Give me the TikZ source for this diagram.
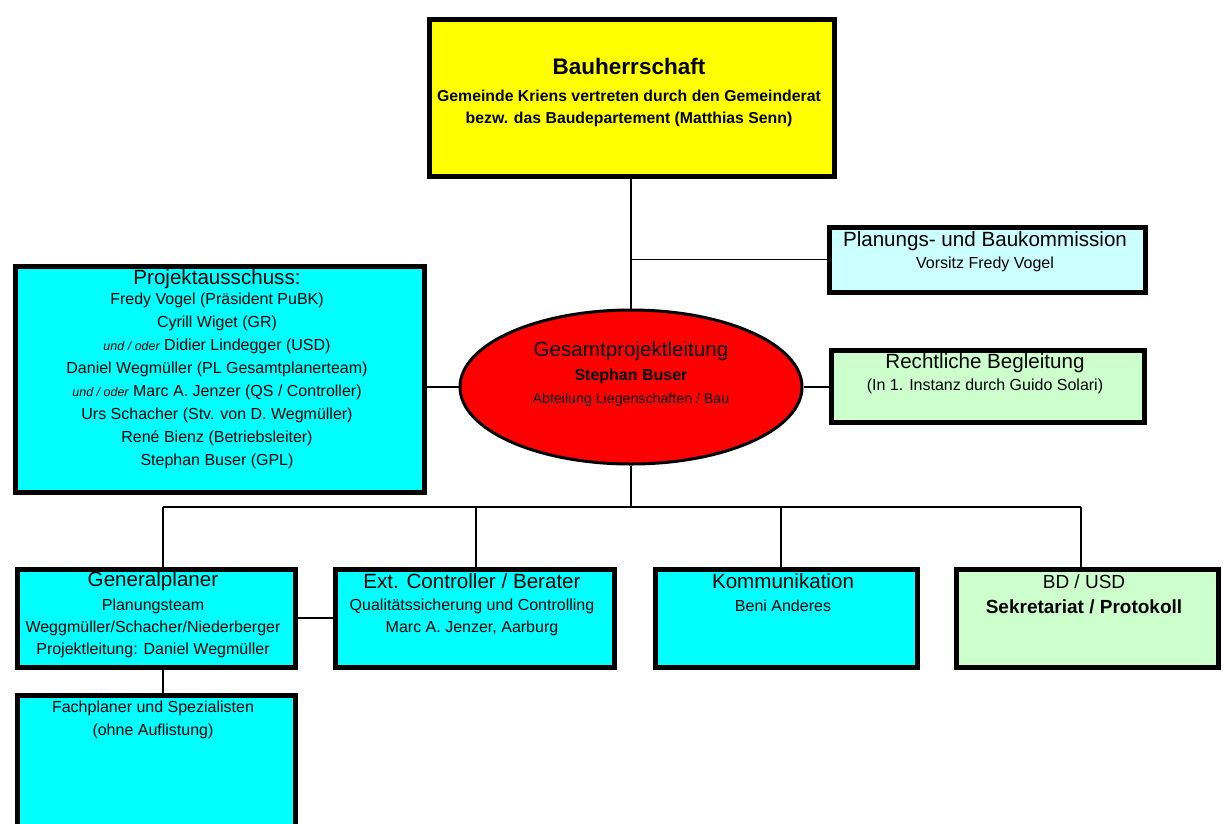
\documentclass[tikz,border=0pt]{standalone}
\usepackage{fontspec}
\setmainfont{Liberation Sans}
\usetikzlibrary{shapes.geometric,positioning}
\definecolor{box yellow}{HTML}{FFFF00}
\definecolor{box cyan}{HTML}{00FFFF}
\definecolor{box pale}{HTML}{CCFFFF}
\definecolor{box green}{HTML}{CCFFCC}
\definecolor{box red}{HTML}{FF0000}
\newcommand{\titlefont}{\fontsize{20.6}{23}\selectfont}
\newcommand{\bodyfont}[1]{\fontsize{16}{#1}\selectfont}
\newcommand{\undoder}{{\fontsize{12.5}{14}\selectfont\itshape und / oder}}
\tikzset{orgbox/.style={draw=black, line width=5pt, inner sep=0pt, anchor=north west},
    titletext/.style={inner sep=0pt, font=\titlefont, yshift=-1.5pt},
    bodytext/.style={anchor=north, align=center, inner sep=0pt},
    link/.style={draw=black, line width=1.3pt}}

\begin{document}
\begin{tikzpicture}[x=1pt, y=-1pt]
    \useasboundingbox (0,0) rectangle (1223,823);
    \clip (0,0) rectangle (1223,823);

    % Bauherrschaft
    \node[orgbox, fill=box yellow, minimum width=405pt, minimum height=157pt] (bh) at (426.5,16.5) {};
    \node[titletext, font=\fontsize{22.5}{24}\selectfont\bfseries, yshift=1.5pt] (bh-title) at (629,66) {Bauherrschaft};
    \node[bodytext, font=\fontsize{15.8}{22}\selectfont\bfseries] (bh-body) at (629,90)
        {Gemeinde Kriens vertreten durch den Gemeinderat\\bezw. das Baudepartement (Matthias Senn)};

    % Planungs- und Baukommission
    \node[orgbox, fill=box pale, minimum width=316pt, minimum height=65pt] (pbk) at (826.5,224.5) {};
    \node[titletext] (pbk-title) at (985,240) {Planungs- und Baukommission};
    \node[inner sep=0pt, font=\bodyfont{18}] (pbk-body) at (985,264) {Vorsitz Fredy Vogel};

    % Projektausschuss
    \node[orgbox, fill=box cyan, minimum width=409pt, minimum height=226pt] (pa) at (12.5,263.5) {};
    \node[titletext] (pa-title) at (217,278) {Projektausschuss:};
    \node[bodytext, font=\bodyfont{23}] (pa-body) at (217,293)
        {Fredy Vogel (Präsident PuBK)\\
         Cyrill Wiget (GR)\\
         \undoder{} Didier Lindegger (USD)\\
         Daniel Wegmüller (PL Gesamtplanerteam)\\
         \undoder{} Marc A. Jenzer (QS / Controller)\\
         Urs Schacher (Stv. von D. Wegmüller)\\
         René Bienz (Betriebsleiter)\\
         Stephan Buser (GPL)};

    % Gesamtprojektleitung
    \node[ellipse, draw=black, line width=3pt, fill=box red, minimum width=342pt, minimum height=154pt] (gpl) at (631,387) {};
    \node[titletext] (gpl-title) at (631,350) {Gesamtprojektleitung};
    \node[inner sep=0pt, font=\bodyfont{18}\bfseries] (gpl-name) at (631,376) {Stephan Buser};
    \node[inner sep=0pt, font=\fontsize{14.2}{16}\selectfont] (gpl-body) at (631,400) {Abteilung Liegenschaften / Bau};

    % Rechtliche Begleitung
    \node[orgbox, fill=box green, minimum width=313pt, minimum height=72pt] (rb) at (828.5,347.5) {};
    \node[titletext] (rb-title) at (985,362) {Rechtliche Begleitung};
    \node[inner sep=0pt, font=\bodyfont{18}] (rb-body) at (985,386) {(In 1. Instanz durch Guido Solari)};

    % untere Reihe
    \node[orgbox, fill=box cyan, minimum width=278pt, minimum height=98pt] (gp) at (14.5,566.5) {};
    \node[titletext] (gp-title) at (153,580) {Generalplaner};
    \node[bodytext, font=\bodyfont{22}] (gp-body) at (153,599)
        {Planungsteam\\Weggmüller/Schacher/Niederberger\\Projektleitung: Daniel Wegmüller};

    \node[orgbox, fill=box cyan, minimum width=279pt, minimum height=98pt] (ext) at (332.5,566.5) {};
    \node[titletext] (ext-title) at (472,580) {Ext. Controller / Berater};
    \node[bodytext, font=\bodyfont{22}] (ext-body) at (472,599)
        {Qualitätssicherung und Controlling\\Marc A. Jenzer, Aarburg};

    \node[orgbox, fill=box cyan, minimum width=262pt, minimum height=98pt] (kom) at (652.5,566.5) {};
    \node[titletext] (kom-title) at (783,580) {Kommunikation};
    \node[inner sep=0pt, font=\bodyfont{18}] (kom-body) at (783,606) {Beni Anderes};

    \node[orgbox, fill=box green, minimum width=262pt, minimum height=98pt] (bd) at (953.5,566.5) {};
    \node[titletext, font=\fontsize{19}{21}\selectfont] (bd-title) at (1084,580) {BD / USD};
    \node[inner sep=0pt, font=\fontsize{19}{21}\selectfont\bfseries] (bd-body) at (1084,607) {Sekretariat / Protokoll};

    \node[orgbox, fill=box cyan, minimum width=278pt, minimum height=160pt] (fp) at (14.5,692.5) {};
    \node[bodytext, font=\bodyfont{23}] (fp-body) at (153,701)
        {Fachplaner und Spezialisten\\(ohne Auflistung)};

    % Verbindungen
    \coordinate (pbk-joint) at (gpl.north |- pbk.west);
    \coordinate (bus) at (631,507);
    \coordinate (bus-left) at (163,507);
    \coordinate (bus-right) at (1081,507);
    \coordinate (drop-ext) at (476,507);
    \coordinate (drop-kom) at (781,507);

    \draw[link] (gpl.north) -- (gpl.north |- bh.south);
    \draw[link] (pbk-joint) -- (pbk.west);
    \draw[link] (gpl.west) -- (gpl.west -| pa.east);
    \draw[link] (gpl.east) -- (gpl.east -| rb.west);
    \draw[link] (gpl.south) -- (bus);
    \draw[link] (bus-left) -- (bus-right);
    \draw[link] (bus-left) -- (bus-left |- gp.north);
    \draw[link] (drop-ext) -- (drop-ext |- ext.north);
    \draw[link] (drop-kom) -- (drop-kom |- kom.north);
    \draw[link] (bus-right) -- (bus-right |- bd.north);
    \draw[link] (gp.east |- ext.west) -- (ext.west);
    \draw[link] (bus-left |- gp.south) -- (bus-left |- fp.north);
\end{tikzpicture}
\end{document}
